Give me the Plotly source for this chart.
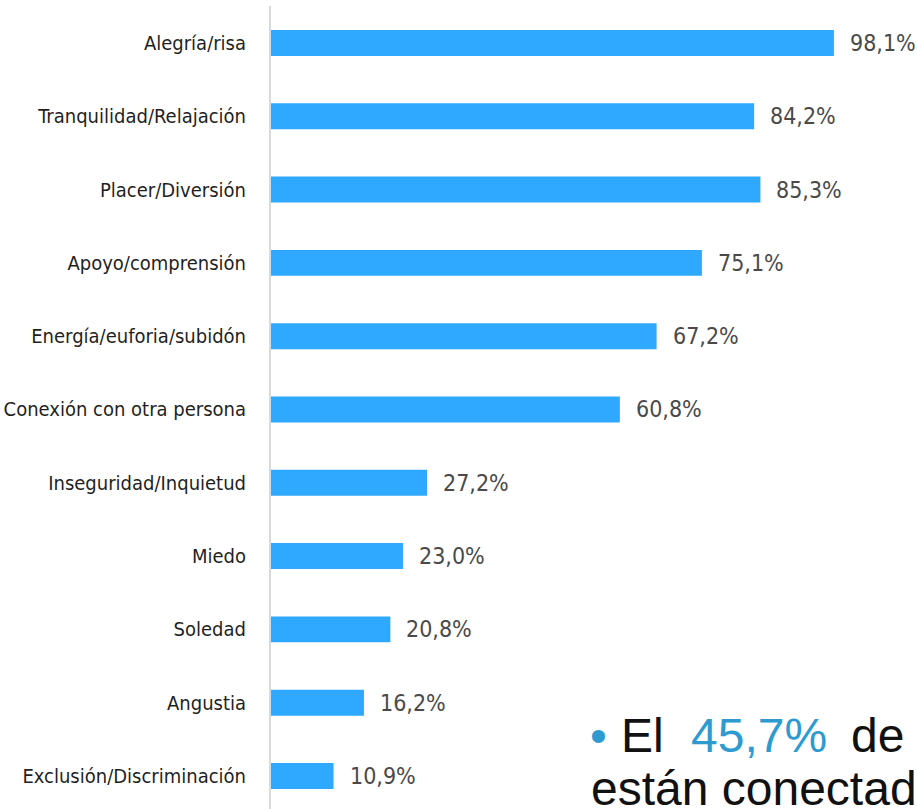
import plotly.graph_objects as go

categories = [
    "Alegría/risa",
    "Tranquilidad/Relajación",
    "Placer/Diversión",
    "Apoyo/comprensión",
    "Energía/euforia/subidón",
    "Conexión con otra persona",
    "Inseguridad/Inquietud",
    "Miedo",
    "Soledad",
    "Angustia",
    "Exclusión/Discriminación",
]
values = [98.1, 84.2, 85.3, 75.1, 67.2, 60.8, 27.2, 23.0, 20.8, 16.2, 10.9]
value_labels = [f"{v:.1f}%".replace(".", ",") for v in values]

BAR = "#2EA9FF"
COND = "Liberation Sans Narrow, DejaVu Sans Condensed, Arial Narrow, DejaVu Sans, sans-serif"

fig = go.Figure(
    go.Bar(
        x=values,
        y=categories,
        orientation="h",
        marker=dict(color=BAR, line=dict(width=0)),
        width=0.354,
        hoverinfo="skip",
    )
)

W, H = 917, 809
L, T = 271, 6
plot_w, plot_h = W - L, H - T

# value labels
for c, v, lab in zip(categories, values, value_labels):
    fig.add_annotation(
        x=v, y=c, xref="x", yref="y", text=lab, showarrow=False,
        xanchor="left", yanchor="middle", xshift=14,
        font=dict(family=COND, size=23, color="#4a4a4a"),
    )

# overlay slide text
def px(xp):
    return (xp - L) / plot_w

def py(yp):
    return (H - yp) / plot_h

blue = "#2E9BD0"
big = "Liberation Sans, Arial, sans-serif"
line1 = [("•", 588, blue), ("El", 619, "#111111"), ("45,7%", 689, blue), ("de", 849, "#111111")]
for t, xp, col in line1:
    fig.add_annotation(
        x=px(xp), y=py(754), xref="paper", yref="paper", text=t, showarrow=False,
        xanchor="left", yanchor="bottom", yshift=-10,
        font=dict(family=big, size=48, color=col),
    )
fig.add_annotation(
    x=px(589), y=py(807), xref="paper", yref="paper", text="están conectad", showarrow=False,
    xanchor="left", yanchor="bottom", yshift=-10,
    font=dict(family=big, size=48, color="#111111"),
)

fig.update_layout(
    width=W, height=H,
    margin=dict(l=L, r=0, t=T, b=0, pad=0, autoexpand=False),
    paper_bgcolor="white", plot_bgcolor="white",
    showlegend=False,
    xaxis=dict(range=[0, plot_w / 5.738], visible=False, fixedrange=True, automargin=False),
    yaxis=dict(
        type="category",
        range=[10.45, -0.504],
        automargin=False,
        showline=True, linecolor="#d9d9d9", linewidth=2,
        showgrid=False, zeroline=False,
        ticks="", ticklabelstandoff=19,
        tickfont=dict(family=COND, size=20, color="#1f1f1f"),
        fixedrange=True,
    ),
)

fig.write_html(
    "out.html",
    config={"displayModeBar": False},
    post_script="document.body.style.margin='0';document.body.style.overflow='hidden';",
)
